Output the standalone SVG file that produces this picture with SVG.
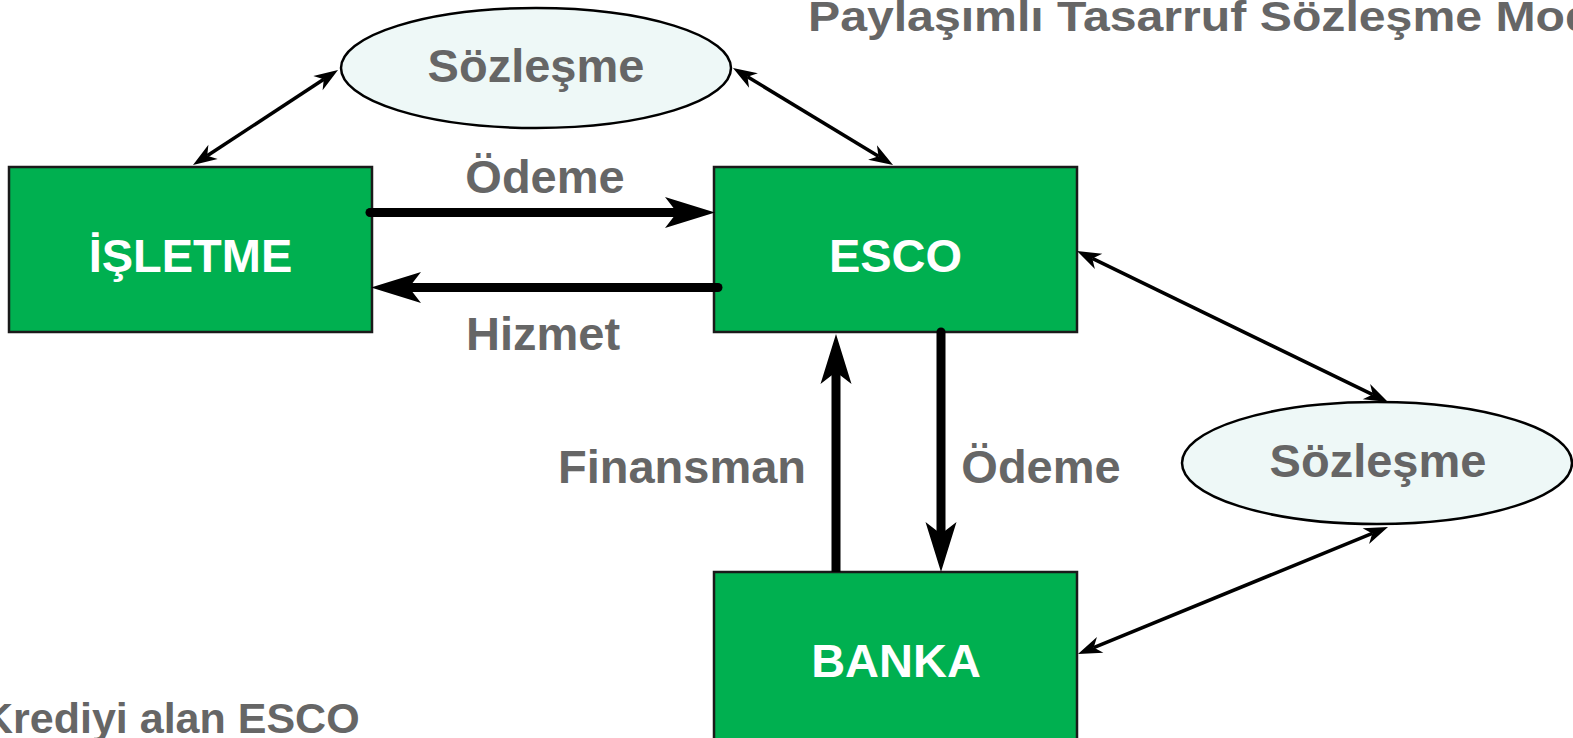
<svg xmlns="http://www.w3.org/2000/svg" width="1573" height="738" viewBox="0 0 1573 738">
<style>
.box{fill:#00b050;stroke:#1a1a1a;stroke-width:2.5}
.ell{fill:#eef8f7;stroke:#000;stroke-width:2.5}
.lbl{font-family:"Liberation Sans",Arial,sans-serif;font-weight:bold;font-size:47px;fill:#666666}
.wt{font-family:"Liberation Sans",Arial,sans-serif;font-weight:bold;font-size:47px;fill:#ffffff}
.thick{stroke:#000;stroke-width:9;fill:none;stroke-linecap:round}
.thin{stroke:#000;stroke-width:3.5;fill:none}
</style>
<defs>
<marker id="big" markerUnits="userSpaceOnUse" orient="auto" refX="12" refY="0" markerWidth="60" markerHeight="40" overflow="visible">
<path d="M50 0 L0 -15.5 L12 0 L0 15.5 Z" fill="#000"/>
</marker>
<marker id="small" markerUnits="userSpaceOnUse" orient="auto-start-reverse" refX="7" refY="0" markerWidth="30" markerHeight="20" overflow="visible">
<path d="M24 0 L0 -8.5 L7 0 L0 8.5 Z" fill="#000"/>
</marker>
</defs>

<text class="lbl" style="font-size:42px" x="808" y="31" textLength="840" lengthAdjust="spacingAndGlyphs">Paylaşımlı Tasarruf Sözleşme Modeli</text>
<text class="lbl" style="font-size:43px" x="-18" y="733">Krediyi alan ESCO</text>

<g id="sozlesme-top">
<ellipse class="ell" cx="536" cy="68" rx="195" ry="60"/>
<text class="lbl" x="536" y="82" text-anchor="middle">Sözleşme</text>
</g>
<g id="sozlesme-right">
<ellipse class="ell" cx="1377" cy="463" rx="195" ry="61"/>
<text class="lbl" x="1378" y="477" text-anchor="middle">Sözleşme</text>
</g>
<g id="isletme">
<rect class="box" x="9" y="167" width="363" height="165"/>
<text class="wt" x="190.5" y="272" text-anchor="middle">İŞLETME</text>
</g>
<g id="esco">
<rect class="box" x="714" y="167" width="363" height="165"/>
<text class="wt" x="895.5" y="272" text-anchor="middle">ESCO</text>
</g>
<g id="banka">
<rect class="box" x="714" y="572" width="363" height="170"/>
<text class="wt" x="896" y="677" text-anchor="middle">BANKA</text>
</g>

<g id="connectors">
<line class="thick" x1="370" y1="212.5" x2="677" y2="212.5" marker-end="url(#big)"/>
<line class="thick" x1="718" y1="287.5" x2="409" y2="287.5" marker-end="url(#big)"/>
<line class="thick" x1="836" y1="572" x2="836" y2="372" marker-end="url(#big)" style="stroke-linecap:butt"/>
<line class="thick" x1="941" y1="332" x2="941" y2="534" marker-end="url(#big)"/>
<line class="thin" x1="207.2" y1="155.7" x2="323.8" y2="79.3" marker-start="url(#small)" marker-end="url(#small)"/>
<line class="thin" x1="747.5" y1="76.8" x2="878.5" y2="156.2" marker-start="url(#small)" marker-end="url(#small)"/>
<line class="thin" x1="1092.3" y1="258.4" x2="1372.7" y2="394.6" marker-start="url(#small)" marker-end="url(#small)"/>
<line class="thin" x1="1093.7" y1="647.6" x2="1372.3" y2="533.4" marker-start="url(#small)" marker-end="url(#small)"/>
<text class="lbl" x="545" y="193" text-anchor="middle">Ödeme</text>
<text class="lbl" x="543" y="350" text-anchor="middle">Hizmet</text>
<text class="lbl" x="682" y="483" text-anchor="middle">Finansman</text>
<text class="lbl" x="1041" y="483" text-anchor="middle">Ödeme</text>
</g>
</svg>
